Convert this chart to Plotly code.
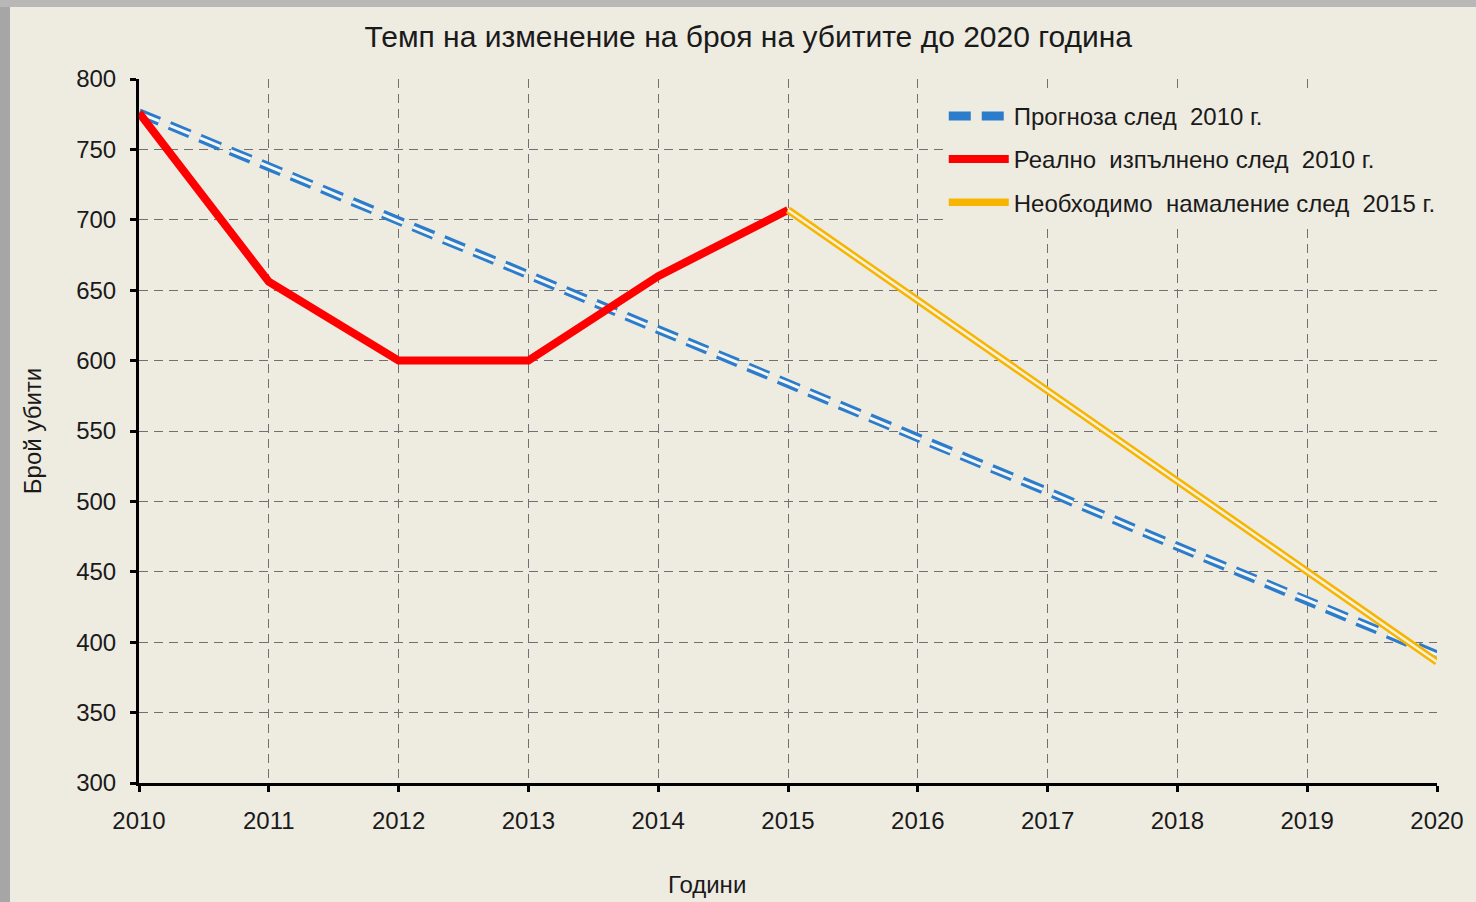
import plotly.graph_objects as go

years = [2010, 2011, 2012, 2013, 2014, 2015, 2016, 2017, 2018, 2019, 2020]
prognosis = [776, 738, 699, 661, 622, 584, 545, 507, 468, 430, 391]
real_years = [2010, 2011, 2012, 2013, 2014, 2015]
real = [776, 656, 600, 600, 660, 707]
needed_years = [2015, 2020]
needed = [707, 386]

names = ["Прогноза след  2010 г.", "Реално  изпълнено след  2010 г.", "Необходимо  намаление след  2015 г."]

BG = "#eeebe1"
FONT = "Liberation Sans, Arial"
TXT = "#1a1a1a"

fig = go.Figure()
# blue dashed double line
fig.add_trace(go.Scatter(x=years, y=prognosis, mode="lines", name=names[0], legendgroup="a",
                         line=dict(color="#2c7ccc", width=9, dash="22px,11px")))
fig.add_trace(go.Scatter(x=years, y=prognosis, mode="lines", showlegend=False, hoverinfo="skip",
                         legendgroup="a", line=dict(color="#f6f6f2", width=3, dash="22px,11px")))
fig.add_trace(go.Scatter(x=real_years, y=real, mode="lines", name=names[1], legendgroup="b",
                         line=dict(color="#ff0000", width=8)))
# yellow double line
fig.add_trace(go.Scatter(x=needed_years, y=needed, mode="lines", name=names[2], legendgroup="c",
                         line=dict(color="#f7b500", width=7.5)))
fig.add_trace(go.Scatter(x=needed_years, y=needed, mode="lines", showlegend=False, hoverinfo="skip",
                         legendgroup="c", line=dict(color="#f6f1dc", width=2.5)))

axis_common = dict(showline=True, linecolor="black", linewidth=3, ticks="outside",
                   tickcolor="black", tickwidth=3, ticklen=6, showgrid=True,
                   gridcolor="#707070", griddash="9px,6px", gridwidth=1.3, zeroline=False,
                   tickfont=dict(size=24, color=TXT, family=FONT))

fig.update_xaxes(range=[2010, 2020], dtick=1, ticklabelstandoff=8, **axis_common)
fig.update_yaxes(range=[300, 800], dtick=50, ticklabelstandoff=9, **axis_common,
                 title=dict(text="Брой убити", font=dict(size=24, family=FONT, color=TXT), standoff=28))

fig.update_layout(
    width=1476, height=902,
    margin=dict(l=139, r=39, t=79, b=119),
    paper_bgcolor=BG, plot_bgcolor=BG,
    font=dict(family=FONT, color=TXT),
    title=dict(text="Темп на изменение на броя на убитите до 2020 година",
               x=0.507, xanchor="center", y=0.96, yanchor="middle",
               font=dict(size=30, family=FONT, color=TXT)),
    legend=dict(x=0.62, xanchor="left", y=0.979, yanchor="top", bgcolor=BG,
                font=dict(size=24, family=FONT, color=TXT), tracegroupgap=9,
                itemwidth=60),
    showlegend=True,
)

fig.add_annotation(text="Години", xref="paper", yref="paper", x=(707 - 139) / 1298, y=-(884 - 783) / 704,
                   xanchor="center", yanchor="middle", showarrow=False,
                   font=dict(size=24, family=FONT, color=TXT))

# gray frame strips at left and top
fig.add_shape(type="rect", xref="paper", yref="paper", x0=-139/1298, x1=-129/1298, y0=-119/704, y1=1 + 79/704,
              fillcolor="#a6a6a6", line_width=0, layer="below")
fig.add_shape(type="rect", xref="paper", yref="paper", x0=-139/1298, x1=1 + 39/1298, y0=1 + 72/704, y1=1 + 79/704,
              fillcolor="#b8b8b8", line_width=0, layer="below")

fig.write_html("out.html", config={"displayModeBar": False},
               post_script="document.body.style.margin='0px';")
